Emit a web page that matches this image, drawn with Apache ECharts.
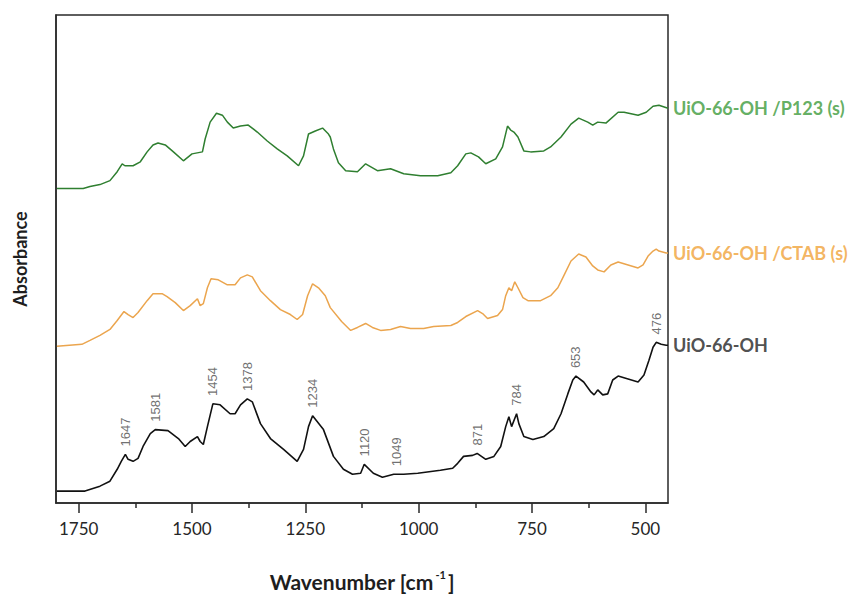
<!DOCTYPE html>
<html>
<head>
<meta charset="utf-8">
<script src="https://cdn.jsdelivr.net/npm/echarts@6/dist/echarts.min.js"></script>
<style>
  html, body { margin: 0; padding: 0; background: #fff; }
  #chart { width: 856px; height: 597px; }
</style>
</head>
<body>
<div id="chart"></div>
<script>
// [wavenumber cm-1, absorbance (a.u., offset traces)]
var pristine = [
  [1798,15],[1736,15],[1703,20],[1681,25],[1665,37],[1656,45],[1647,52],[1641,47],[1630,45],[1619,48],
  [1608,60],[1592,73],[1581,77],[1553,76],[1530,68],[1515,60],[1504,65],[1488,70],[1482,65],[1475,62],
  [1466,80],[1454,103],[1438,102],[1416,93],[1405,93],[1393,102],[1378,108],[1367,105],[1349,83],[1327,68],
  [1298,57],[1268,45],[1254,57],[1243,80],[1234,91],[1210,77],[1188,50],[1166,37],[1146,32],[1128,33],
  [1120,42],[1100,33],[1080,29],[1055,32],[1033,32],[1002,33],[952,36],[925,38],[914,43],[901,50],
  [881,51],[871,53],[852,47],[834,50],[819,60],[808,80],[801,90],[795,80],[784,93],[779,83],
  [768,70],[748,67],[724,70],[702,78],[686,93],[671,113],[660,127],[653,131],[636,125],[620,115],
  [613,112],[605,117],[594,112],[583,113],[572,127],[560,131],[538,128],[516,125],[503,132],[492,147],
  [483,160],[476,165],[465,163],[454,162],[450,162]
];
var ctab = [
  [1798,161],[1743,163],[1725,167],[1703,172],[1681,178],[1665,187],[1650,196],[1641,193],[1630,190],[1619,195],
  [1599,207],[1586,214],[1566,214],[1555,211],[1537,205],[1519,197],[1504,202],[1488,209],[1482,202],[1475,204],
  [1466,220],[1458,229],[1442,228],[1422,223],[1405,223],[1393,230],[1378,233],[1367,231],[1349,217],[1327,207],
  [1305,198],[1283,193],[1268,188],[1256,193],[1245,212],[1234,224],[1221,220],[1206,212],[1195,200],[1170,186],
  [1150,177],[1135,180],[1117,184],[1102,180],[1084,177],[1062,178],[1040,181],[1018,179],[989,179],[967,181],
  [929,182],[914,185],[896,191],[870,197],[859,194],[848,189],[826,192],[815,198],[808,212],[801,220],
  [795,217],[788,226],[781,220],[770,210],[759,207],[731,207],[709,212],[693,220],[680,232],[664,247],
  [647,254],[631,251],[616,242],[605,238],[591,236],[576,243],[560,246],[538,243],[516,240],[505,243],
  [494,252],[483,257],[476,259],[470,257],[454,255],[450,255]
];
var p123 = [
  [1798,320],[1740,320],[1725,322],[1703,324],[1681,328],[1665,337],[1654,345],[1648,343],[1630,343],[1614,347],
  [1599,357],[1586,364],[1575,366],[1559,364],[1541,357],[1519,348],[1500,355],[1477,357],[1471,370],[1460,387],
  [1446,396],[1433,394],[1422,387],[1409,381],[1393,383],[1376,384],[1356,377],[1334,368],[1312,360],[1290,353],
  [1265,343],[1254,353],[1243,375],[1228,378],[1212,381],[1199,375],[1195,372],[1188,360],[1177,346],[1161,338],
  [1135,337],[1117,345],[1091,338],[1062,340],[1033,335],[996,333],[958,333],[929,336],[914,343],[896,355],
  [885,356],[868,352],[852,345],[830,350],[815,362],[804,383],[797,379],[790,377],[781,372],[768,358],
  [753,357],[724,358],[709,362],[686,372],[664,385],[647,391],[627,387],[616,384],[605,387],[587,386],
  [560,397],[547,397],[516,394],[498,397],[483,403],[470,404],[450,401]
];
var seriesNames = ['UiO-66-OH /P123 (s)', 'UiO-66-OH /CTAB (s)', 'UiO-66-OH'];
var peaks = [1647, 1581, 1454, 1378, 1234, 1120, 1049, 871, 784, 653, 476];
var majorTicks = [1750, 1500, 1250, 1000, 750, 500];
var minorTicks = [1625, 1375, 1125, 875, 625];

// peak labels sit just above the highest point of the pristine trace near each band
function peakLevel(wn) {
  var best = -Infinity;
  pristine.forEach(function(p) {
    if (Math.abs(p[0] - wn) <= 12 && p[1] > best) best = p[1];
  });
  if (best === -Infinity) {
    var near = pristine.reduce(function(a, b) { return Math.abs(b[0] - wn) < Math.abs(a[0] - wn) ? b : a; });
    best = near[1];
  }
  return best + 8;
}
var peakPoints = peaks.map(function(wn) { return [wn, peakLevel(wn)]; });

var chart = echarts.init(document.getElementById('chart'), null, { renderer: 'svg' });

function traceSeries(name, data, color, width) {
  return {
    name: name,
    type: 'line',
    data: data,
    showSymbol: false,
    lineStyle: { color: color, width: width }
  };
}
// series name written to the right of the last point of each trace
function nameTag(name, data, color) {
  return {
    name: name + ' tag',
    type: 'scatter',
    data: [data[data.length - 1]],
    symbolSize: 0,
    silent: true,
    label: {
      show: true, position: 'right', distance: 5,
      formatter: name,
      color: color, fontFamily: 'Lato', fontWeight: 'bold', fontSize: 18
    }
  };
}

chart.setOption({
  animation: false,
  grid: { left: 56, right: 188, top: 15, bottom: 90, show: true, borderColor: '#2a2a2a', borderWidth: 1.5, backgroundColor: 'transparent' },
  xAxis: [{
    type: 'value',
    min: 450,
    max: 1800,
    inverse: true,
    position: 'bottom',
    name: 'Wavenumber [cm{sup|-1}]',
    nameLocation: 'middle',
    nameGap: 66,
    nameTextStyle: {
      fontFamily: 'Lato', fontWeight: 'bold', fontSize: 21, color: '#1e1e1e',
      rich: { sup: { fontFamily: 'Lato', fontWeight: 'bold', fontSize: 11, color: '#1e1e1e', padding: [0, 2, 14, 2] } }
    },
    axisLine: { show: true, lineStyle: { color: '#2a2a2a', width: 1.5 } },
    axisTick: { show: true, inside: false, length: 10, lineStyle: { color: '#2a2a2a', width: 1.5 }, customValues: majorTicks },
    axisLabel: {
      color: '#262626', fontFamily: 'Lato', fontSize: 17, margin: 17, customValues: majorTicks,
      formatter: function(v) { return String(v); }
    },
    splitLine: { show: false }
  }, {
    type: 'value',
    min: 450,
    max: 1800,
    inverse: true,
    position: 'bottom',
    axisLine: { show: false },
    axisTick: { show: true, inside: false, length: 5, lineStyle: { color: '#2a2a2a', width: 1.5 }, customValues: minorTicks },
    axisLabel: { show: false },
    splitLine: { show: false }
  }],
  yAxis: {
    type: 'value',
    min: 3,
    max: 495,
    name: 'Absorbance',
    nameLocation: 'middle',
    nameGap: 27,
    nameTextStyle: { fontFamily: 'Lato', fontWeight: 'bold', fontSize: 18, color: '#1e1e1e' },
    axisLine: { show: true, lineStyle: { color: '#2a2a2a', width: 1.5 } },
    axisTick: { show: false },
    axisLabel: { show: false },
    splitLine: { show: false }
  },
  series: [
    traceSeries(seriesNames[0], p123, '#2f7f30', 1.5),
    traceSeries(seriesNames[1], ctab, '#eba54e', 1.5),
    traceSeries(seriesNames[2], pristine, '#111111', 1.6),
    nameTag(seriesNames[0], p123, '#3c9a3a'),
    nameTag(seriesNames[1], ctab, '#f0a238'),
    nameTag(seriesNames[2], pristine, '#222222'),
    {
      name: 'peaks',
      type: 'scatter',
      data: peakPoints,
      symbolSize: 0,
      silent: true,
      label: {
        show: true,
        position: 'top',
        distance: 0,
        rotate: 90,
        align: 'left',
        verticalAlign: 'middle',
        formatter: function(p) { return String(p.value[0]); },
        fontFamily: 'Liberation Sans',
        fontSize: 13,
        color: '#4a4a4a'
      }
    }
  ]
});
window.addEventListener('resize', function() { chart.resize(); });
</script>
</body>
</html>
